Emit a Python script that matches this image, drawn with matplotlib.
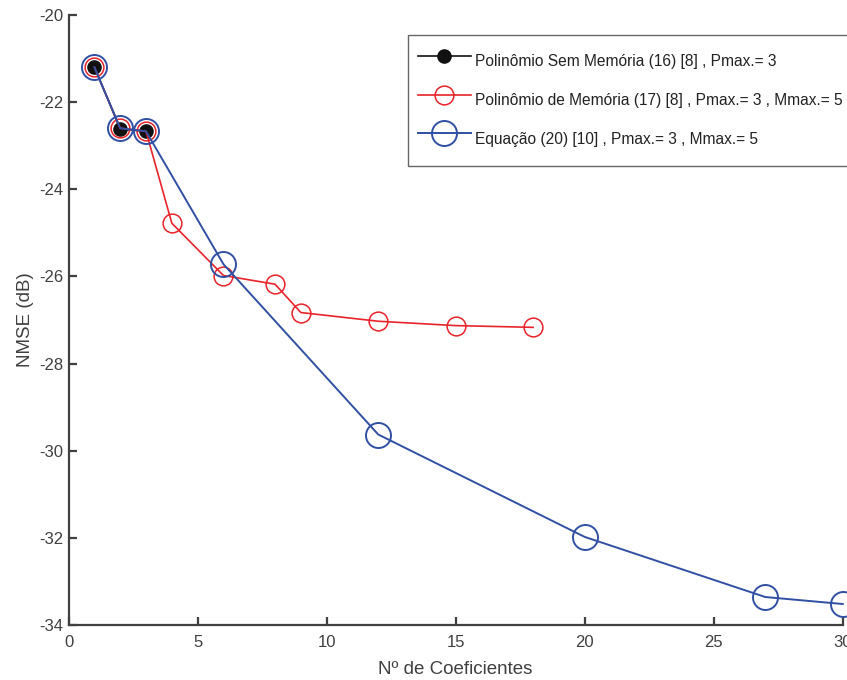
import matplotlib.pyplot as plt

plt.rcParams['font.family'] = ['Liberation Sans', 'DejaVu Sans']
plt.rcParams['axes.unicode_minus'] = False

# data
x_sem = [1, 2, 3]
y_sem = [-21.2, -22.62, -22.67]

x_mem = [1, 2, 3, 4, 6, 8, 9, 12, 15, 18]
y_mem = [-21.2, -22.6, -22.67, -24.78, -25.98, -26.18, -26.83, -27.03, -27.13, -27.17]

x_eq = [1, 2, 3, 6, 12, 20, 27, 30]
y_eq = [-21.2, -22.6, -22.67, -25.72, -29.63, -31.98, -33.36, -33.52]

labels = ["Polinômio Sem Memória (16) [8] , Pmax.= 3",
          "Polinômio de Memória (17) [8] , Pmax.= 3 , Mmax.= 5",
          "Equação (20) [10] , Pmax.= 3 , Mmax.= 5"]

gray = '#404040'
red = '#e8242a'
blue = '#3150a3'

fig = plt.figure(figsize=(8.47, 6.8), dpi=100)
ax = fig.add_axes([0.081, 0.081, 0.914, 0.897])

ax.plot(x_sem, y_sem, color='#111111', lw=1.2, marker='o', ms=9.5,
        mfc='#111111', mec='#111111', label=labels[0], zorder=3)
ax.plot(x_mem, y_mem, color=red, lw=1.2, marker='o', ms=13.5,
        mfc='none', mec=red, mew=1.1, label=labels[1], zorder=4)
ax.plot(x_eq, y_eq, color=blue, lw=1.4, marker='o', ms=18,
        mfc='none', mec=blue, mew=1.4, label=labels[2], zorder=5)

ax.set_xlim(0, 30)
ax.set_ylim(-34, -20)
ax.set_xticks([0, 5, 10, 15, 20, 25, 30])
ax.set_yticks([-34, -32, -30, -28, -26, -24, -22, -20])

for s in ['top', 'right']:
    ax.spines[s].set_visible(False)
for s in ['left', 'bottom']:
    ax.spines[s].set_color(gray)
    ax.spines[s].set_linewidth(1.6)
ax.tick_params(direction='in', length=6, width=1.6, color=gray,
               labelcolor=gray, labelsize=12)
ax.tick_params(axis='x', pad=7)

ax.set_xlabel("Nº de Coeficientes", fontsize=13.5, color=gray, labelpad=8)
ax.set_ylabel("NMSE (dB)", fontsize=13.5, color=gray, labelpad=4)

leg = ax.legend(loc='upper left', bbox_to_anchor=(0.438, 0.967),
                fontsize=11.2, frameon=True, fancybox=False,
                handlelength=3.4, handleheight=2.88, labelspacing=0.38,
                borderpad=0.65, handletextpad=0.26, borderaxespad=0)
leg.get_frame().set_edgecolor(gray)
leg.get_frame().set_linewidth(1.0)
for t in leg.get_texts():
    t.set_color('#222222')

for ln in ax.get_lines():
    ln.set_clip_on(False)

fig.savefig('out.png', dpi=100)
